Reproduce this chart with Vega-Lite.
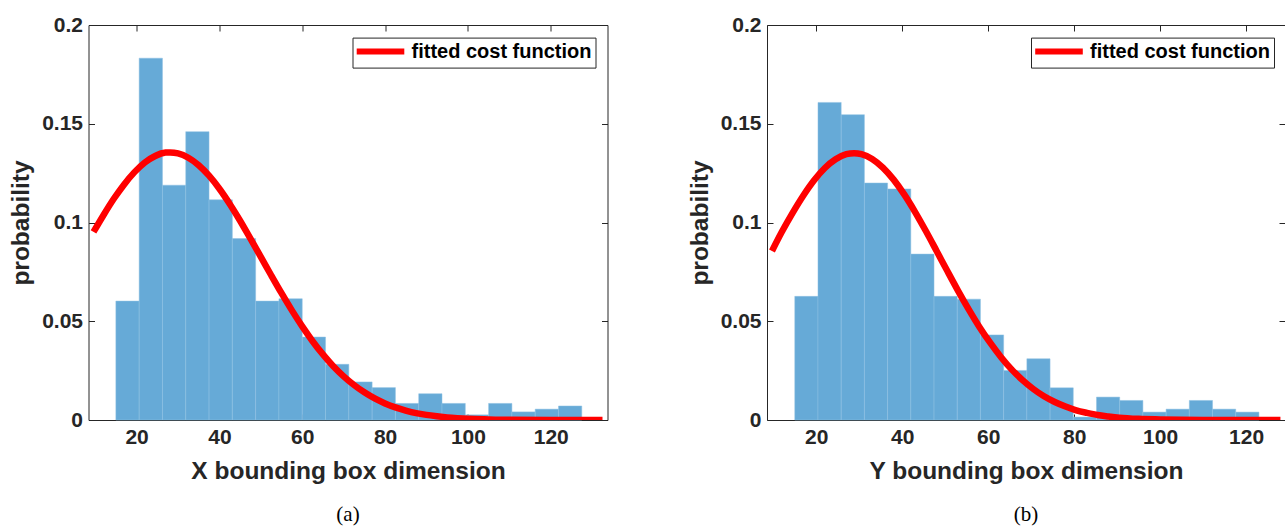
{
  "$schema": "https://vega.github.io/schema/vega-lite/v6.json",
  "background": "white",
  "padding": {"left": 8.5, "top": 14, "right": 0, "bottom": 4},
  "datasets": {
    "barsA": [
      {"x0": 15, "x1": 20.625, "p": 0.0602},
      {"x0": 20.625, "x1": 26.25, "p": 0.1832},
      {"x0": 26.25, "x1": 31.875, "p": 0.1189},
      {"x0": 31.875, "x1": 37.5, "p": 0.146},
      {"x0": 37.5, "x1": 43.125, "p": 0.1115},
      {"x0": 43.125, "x1": 48.75, "p": 0.0919},
      {"x0": 48.75, "x1": 54.375, "p": 0.0602},
      {"x0": 54.375, "x1": 60, "p": 0.0614},
      {"x0": 60, "x1": 65.625, "p": 0.042},
      {"x0": 65.625, "x1": 71.25, "p": 0.0282},
      {"x0": 71.25, "x1": 76.875, "p": 0.0193},
      {"x0": 76.875, "x1": 82.5, "p": 0.0164},
      {"x0": 82.5, "x1": 88.125, "p": 0.0084},
      {"x0": 88.125, "x1": 93.75, "p": 0.0133},
      {"x0": 93.75, "x1": 99.375, "p": 0.0084},
      {"x0": 99.375, "x1": 105, "p": 0.0026},
      {"x0": 105, "x1": 110.625, "p": 0.0084},
      {"x0": 110.625, "x1": 116.25, "p": 0.0041},
      {"x0": 116.25, "x1": 121.875, "p": 0.0055},
      {"x0": 121.875, "x1": 127.5, "p": 0.0071}
    ],
    "curveA": [
      {"x": 9.6, "p": 0.0952, "series": "fitted cost function"},
      {"x": 12, "p": 0.1037, "series": "fitted cost function"},
      {"x": 14.5, "p": 0.112, "series": "fitted cost function"},
      {"x": 17, "p": 0.1193, "series": "fitted cost function"},
      {"x": 19.5, "p": 0.1255, "series": "fitted cost function"},
      {"x": 22, "p": 0.1304, "series": "fitted cost function"},
      {"x": 24.5, "p": 0.1337, "series": "fitted cost function"},
      {"x": 27, "p": 0.1354, "series": "fitted cost function"},
      {"x": 28.1, "p": 0.1355, "series": "fitted cost function"},
      {"x": 30, "p": 0.135, "series": "fitted cost function"},
      {"x": 32.5, "p": 0.1328, "series": "fitted cost function"},
      {"x": 35, "p": 0.129, "series": "fitted cost function"},
      {"x": 37.5, "p": 0.1237, "series": "fitted cost function"},
      {"x": 40, "p": 0.1171, "series": "fitted cost function"},
      {"x": 42.5, "p": 0.1094, "series": "fitted cost function"},
      {"x": 45, "p": 0.1009, "series": "fitted cost function"},
      {"x": 47.5, "p": 0.0918, "series": "fitted cost function"},
      {"x": 50, "p": 0.0826, "series": "fitted cost function"},
      {"x": 52.5, "p": 0.0733, "series": "fitted cost function"},
      {"x": 55, "p": 0.0642, "series": "fitted cost function"},
      {"x": 57.5, "p": 0.0555, "series": "fitted cost function"},
      {"x": 60, "p": 0.0474, "series": "fitted cost function"},
      {"x": 62.5, "p": 0.0399, "series": "fitted cost function"},
      {"x": 65, "p": 0.0332, "series": "fitted cost function"},
      {"x": 67.5, "p": 0.0272, "series": "fitted cost function"},
      {"x": 70, "p": 0.0221, "series": "fitted cost function"},
      {"x": 72.5, "p": 0.0177, "series": "fitted cost function"},
      {"x": 75, "p": 0.014, "series": "fitted cost function"},
      {"x": 77.5, "p": 0.0109, "series": "fitted cost function"},
      {"x": 80, "p": 0.0084, "series": "fitted cost function"},
      {"x": 82.5, "p": 0.0064, "series": "fitted cost function"},
      {"x": 85, "p": 0.0048, "series": "fitted cost function"},
      {"x": 87.5, "p": 0.0035, "series": "fitted cost function"},
      {"x": 90, "p": 0.0026, "series": "fitted cost function"},
      {"x": 92.5, "p": 0.0019, "series": "fitted cost function"},
      {"x": 95, "p": 0.0013, "series": "fitted cost function"},
      {"x": 97.5, "p": 0.0009, "series": "fitted cost function"},
      {"x": 100, "p": 0.0006, "series": "fitted cost function"},
      {"x": 105, "p": 0.0003, "series": "fitted cost function"},
      {"x": 110, "p": 0.0001, "series": "fitted cost function"},
      {"x": 120, "p": 0, "series": "fitted cost function"},
      {"x": 132.5, "p": 0, "series": "fitted cost function"}
    ],
    "barsB": [
      {"x0": 15, "x1": 20.4, "p": 0.0626},
      {"x0": 20.4, "x1": 25.8, "p": 0.1608},
      {"x0": 25.8, "x1": 31.2, "p": 0.1546},
      {"x0": 31.2, "x1": 36.6, "p": 0.12},
      {"x0": 36.6, "x1": 42, "p": 0.117},
      {"x0": 42, "x1": 47.4, "p": 0.084},
      {"x0": 47.4, "x1": 52.8, "p": 0.0626},
      {"x0": 52.8, "x1": 58.2, "p": 0.0612},
      {"x0": 58.2, "x1": 63.6, "p": 0.0431},
      {"x0": 63.6, "x1": 69, "p": 0.0251},
      {"x0": 69, "x1": 74.4, "p": 0.031},
      {"x0": 74.4, "x1": 79.8, "p": 0.0163},
      {"x0": 79.8, "x1": 85.2, "p": 0.0015},
      {"x0": 85.2, "x1": 90.6, "p": 0.0116},
      {"x0": 90.6, "x1": 96, "p": 0.0099},
      {"x0": 96, "x1": 101.4, "p": 0.004},
      {"x0": 101.4, "x1": 106.8, "p": 0.0055},
      {"x0": 106.8, "x1": 112.2, "p": 0.0099},
      {"x0": 112.2, "x1": 117.6, "p": 0.0055},
      {"x0": 117.6, "x1": 123, "p": 0.004}
    ],
    "curveB": [
      {"x": 9.7, "p": 0.0856, "series": "fitted cost function"},
      {"x": 12, "p": 0.0953, "series": "fitted cost function"},
      {"x": 14.5, "p": 0.1049, "series": "fitted cost function"},
      {"x": 17, "p": 0.1137, "series": "fitted cost function"},
      {"x": 19.5, "p": 0.1214, "series": "fitted cost function"},
      {"x": 22, "p": 0.1276, "series": "fitted cost function"},
      {"x": 24.5, "p": 0.132, "series": "fitted cost function"},
      {"x": 27, "p": 0.1346, "series": "fitted cost function"},
      {"x": 28.8, "p": 0.1351, "series": "fitted cost function"},
      {"x": 30.5, "p": 0.1346, "series": "fitted cost function"},
      {"x": 33, "p": 0.1322, "series": "fitted cost function"},
      {"x": 35.5, "p": 0.1278, "series": "fitted cost function"},
      {"x": 38, "p": 0.1217, "series": "fitted cost function"},
      {"x": 40.5, "p": 0.1141, "series": "fitted cost function"},
      {"x": 43, "p": 0.1053, "series": "fitted cost function"},
      {"x": 45.5, "p": 0.0957, "series": "fitted cost function"},
      {"x": 48, "p": 0.0856, "series": "fitted cost function"},
      {"x": 50.5, "p": 0.0754, "series": "fitted cost function"},
      {"x": 53, "p": 0.0654, "series": "fitted cost function"},
      {"x": 55.5, "p": 0.0559, "series": "fitted cost function"},
      {"x": 58, "p": 0.047, "series": "fitted cost function"},
      {"x": 60.5, "p": 0.039, "series": "fitted cost function"},
      {"x": 63, "p": 0.0318, "series": "fitted cost function"},
      {"x": 65.5, "p": 0.0255, "series": "fitted cost function"},
      {"x": 68, "p": 0.0202, "series": "fitted cost function"},
      {"x": 70.5, "p": 0.0157, "series": "fitted cost function"},
      {"x": 73, "p": 0.012, "series": "fitted cost function"},
      {"x": 75.5, "p": 0.0091, "series": "fitted cost function"},
      {"x": 78, "p": 0.0068, "series": "fitted cost function"},
      {"x": 80.5, "p": 0.0049, "series": "fitted cost function"},
      {"x": 83, "p": 0.0036, "series": "fitted cost function"},
      {"x": 85.5, "p": 0.0025, "series": "fitted cost function"},
      {"x": 88, "p": 0.0018, "series": "fitted cost function"},
      {"x": 90.5, "p": 0.0012, "series": "fitted cost function"},
      {"x": 95, "p": 0.0006, "series": "fitted cost function"},
      {"x": 100, "p": 0.0003, "series": "fitted cost function"},
      {"x": 105, "p": 0.0001, "series": "fitted cost function"},
      {"x": 110, "p": 0, "series": "fitted cost function"},
      {"x": 128, "p": 0, "series": "fitted cost function"}
    ]
  },
  "spacing": 78.5,
  "hconcat": [
    {
      "width": 519,
      "height": 395,
      "title": {"text": "(a)", "orient": "bottom", "font": "Liberation Serif", "fontSize": 21, "fontWeight": "normal", "color": "#000000", "offset": 21},
      "resolve": {"axis": {"x": "independent", "y": "independent"}},
      "layer": [
        {
          "data": {"name": "barsA"},
          "mark": {"type": "bar", "color": "#66AAD7", "stroke": "#8fc0e2", "strokeWidth": 0.5, "orient": "vertical"},
          "encoding": {
            "x": {"field": "x0", "type": "quantitative", "scale": {"domain": [9.6, 132.5], "nice": false, "zero": false}, "axis": {"orient": "bottom", "values": [20, 40, 60, 80, 100, 120], "title": "X bounding box dimension"}},
            "x2": {"field": "x1"},
            "y": {"field": "p", "type": "quantitative", "scale": {"domain": [0, 0.2], "nice": false}, "axis": {"orient": "left", "values": [0, 0.05, 0.1, 0.15, 0.2], "format": ".2~f", "title": "probability"}},
            "y2": {"datum": 0}
          }
        },
        {
          "data": {"name": "curveA"},
          "mark": {"type": "line", "strokeWidth": 6.5, "clip": true, "interpolate": "monotone"},
          "encoding": {
            "x": {"field": "x", "type": "quantitative", "axis": {"orient": "top", "values": [20, 40, 60, 80, 100, 120], "labels": false, "title": null}},
            "y": {"field": "p", "type": "quantitative", "axis": {"orient": "right", "values": [0, 0.05, 0.1, 0.15, 0.2], "labels": false, "title": null}},
            "color": {"field": "series", "type": "nominal", "scale": {"range": ["#ff0000"]}, "legend": {"orient": "none", "legendX": 264, "legendY": 12.6}}
          }
        }
      ]
    },
    {
      "width": 518,
      "height": 395,
      "title": {"text": "(b)", "orient": "bottom", "font": "Liberation Serif", "fontSize": 21, "fontWeight": "normal", "color": "#000000", "offset": 21},
      "resolve": {"axis": {"x": "independent", "y": "independent"}},
      "layer": [
        {
          "data": {"name": "barsB"},
          "mark": {"type": "bar", "color": "#66AAD7", "stroke": "#8fc0e2", "strokeWidth": 0.5, "orient": "vertical"},
          "encoding": {
            "x": {"field": "x0", "type": "quantitative", "scale": {"domain": [9.7, 127.9], "nice": false, "zero": false}, "axis": {"orient": "bottom", "values": [20, 40, 60, 80, 100, 120], "title": "Y bounding box dimension"}},
            "x2": {"field": "x1"},
            "y": {"field": "p", "type": "quantitative", "scale": {"domain": [0, 0.2], "nice": false}, "axis": {"orient": "left", "values": [0, 0.05, 0.1, 0.15, 0.2], "format": ".2~f", "title": "probability"}},
            "y2": {"datum": 0}
          }
        },
        {
          "data": {"name": "curveB"},
          "mark": {"type": "line", "strokeWidth": 6.5, "clip": true, "interpolate": "monotone"},
          "encoding": {
            "x": {"field": "x", "type": "quantitative", "axis": {"orient": "top", "values": [20, 40, 60, 80, 100, 120], "labels": false, "title": null}},
            "y": {"field": "p", "type": "quantitative", "axis": {"orient": "right", "values": [0, 0.05, 0.1, 0.15, 0.2], "labels": false, "title": null}},
            "color": {"field": "series", "type": "nominal", "scale": {"range": ["#ff0000"]}, "legend": {"orient": "none", "legendX": 264, "legendY": 12.6}}
          }
        }
      ]
    }
  ],
  "resolve": {"scale": {"color": "independent"}, "legend": {"color": "independent"}},
  "config": {
    "font": "Liberation Sans",
    "view": {"stroke": null},
    "axis": {
      "grid": false,
      "domainColor": "#262626",
      "domainWidth": 1,
      "tickColor": "#262626",
      "tickSize": -6,
      "tickWidth": 1,
      "labelFont": "Liberation Sans",
      "labelFontSize": 21,
      "labelFontWeight": "bold",
      "labelColor": "#262626",
      "labelPadding": 12,
      "titleFont": "Liberation Sans",
      "titleFontSize": 24.5,
      "titleFontWeight": "bold",
      "titleColor": "#262626",
      "titlePadding": 8
    },
    "axisX": {"titlePadding": 12},
    "legend": {
      "title": null,
      "symbolType": "M-3.4,0L3.4,0",
      "symbolSize": 196,
      "symbolStrokeWidth": 6,
      "symbolOffset": 14,
      "labelFont": "Liberation Sans",
      "labelFontSize": 20,
      "labelFontWeight": "bold",
      "labelColor": "#000000",
      "labelOffset": 21,
      "labelLimit": 400,
      "strokeColor": "#262626",
      "fillColor": "#ffffff",
      "padding": 4
    }
  }
}
